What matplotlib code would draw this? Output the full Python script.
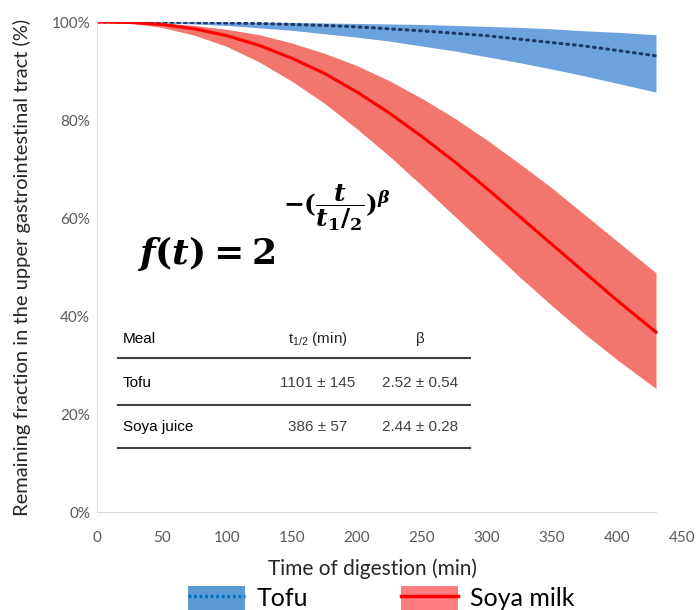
import matplotlib
matplotlib.use("Agg")
import matplotlib.pyplot as plt
from matplotlib.lines import Line2D
from matplotlib.patches import Patch
from matplotlib.ticker import PercentFormatter

plt.rcParams["font.family"] = ["Lato", "DejaVu Sans"]
plt.rcParams["mathtext.fontset"] = "custom"
plt.rcParams["mathtext.it"] = "DejaVu Serif:italic:bold"
plt.rcParams["mathtext.rm"] = "DejaVu Serif:bold"
plt.rcParams["mathtext.bf"] = "DejaVu Serif:bold"

# time points (min)
t = [0, 25, 50, 75, 100, 125, 150, 175, 200, 225, 250, 275, 300, 325, 350, 375, 400, 430]

# Tofu: median curve and band (%)
tofu_mid = [100, 100, 99.97, 99.9, 99.8, 99.7, 99.5, 99.3, 99.0, 98.6, 98.2, 97.7, 97.2, 96.5, 95.8, 95.1, 94.2, 93.1]
tofu_hi = [100, 100, 100, 100, 99.97, 99.95, 99.9, 99.8, 99.7, 99.6, 99.5, 99.3, 99.1, 98.9, 98.6, 98.2, 97.9, 97.4]
tofu_lo = [100, 99.96, 99.8, 99.6, 99.3, 98.8, 98.3, 97.6, 96.9, 96.1, 95.1, 94.1, 92.9, 91.7, 90.4, 89.0, 87.5, 85.7]

# Soya milk: median curve and band (%)
soya_mid = [100, 99.9, 99.5, 98.6, 97.2, 95.2, 92.6, 89.5, 85.7, 81.4, 76.6, 71.5, 66.0, 60.3, 54.6, 48.9, 43.2, 36.7]
soya_hi = [100, 100, 99.8, 99.3, 98.5, 97.4, 95.7, 93.6, 91.1, 88.0, 84.4, 80.4, 75.9, 71.1, 66.1, 60.7, 55.3, 48.8]
soya_lo = [100, 99.8, 98.9, 97.3, 95.0, 91.8, 87.9, 83.4, 78.2, 72.6, 66.6, 60.4, 54.2, 48.0, 42.1, 36.4, 31.1, 25.2]

# inset table
meals = ["Tofu", "Soya juice"]
t_half = ["1101 ± 145", "386 ± 57"]
betas = ["2.52 ± 0.54", "2.44 ± 0.28"]

W, H = 697, 610
fig = plt.figure(figsize=(W / 100, H / 100), dpi=100)
ax = fig.add_axes([97 / W, 1 - 512 / H, (682 - 97) / W, (512 - 22) / H])


def px(x, y):
    return x / W, 1 - y / H


ax.fill_between(t, tofu_lo, tofu_hi, color="#6CA2DE", lw=0)
ax.fill_between(t, soya_lo, soya_hi, color="#F2766D", lw=0)
ax.plot(t, tofu_mid, color="#1F3864", lw=2.2, ls=(0, (0.6, 1.6)), dash_capstyle="round")
ax.plot(t, soya_mid, color="#FF0000", lw=2.2)

ax.set_xlim(0, 450)
ax.set_ylim(0, 100)
ax.set_xticks(range(0, 451, 50))
ax.set_yticks(range(0, 101, 20))
ax.yaxis.set_major_formatter(PercentFormatter(decimals=0))
ax.tick_params(length=0, labelsize=11, colors="#595959")
ax.tick_params(axis="y", pad=5)
ax.tick_params(axis="x", pad=14)
for s in ["top", "right"]:
    ax.spines[s].set_visible(False)
for s in ["left", "bottom"]:
    ax.spines[s].set_color("#D9D9D9")
ax.spines["bottom"].set_bounds(0, 430)

ax.set_xlabel("Time of digestion (min)", fontsize=15, color="#262626")
ax.xaxis.set_label_coords((373 - 97) / (682 - 97), -(569 - 512) / (512 - 22), transform=ax.transAxes)
ax.xaxis.label.set_va("center")
ax.set_ylabel("Remaining fraction in the upper gastrointestinal tract (%)",
              fontsize=14.5, color="#262626")
ax.yaxis.set_label_coords(-(97 - 22) / (682 - 97), (512 - 267) / (512 - 22), transform=ax.transAxes)
ax.yaxis.label.set_va("center")

# formula
fig.text(*px(137, 264), r"$f(t) = 2$", fontsize=26, ha="left", va="baseline", color="black")
fig.text(*px(283, 212), r"$-(\dfrac{t}{t_{1}/_{2}})^{\beta}$", fontsize=18, ha="left",
         va="baseline", color="black")

# table
col_x = [123, 318, 420]
fig.text(*px(col_x[0], 339), "Meal", fontsize=11, va="center", ha="left", family="Liberation Sans")
fig.text(*px(col_x[1], 339), r"t$_{\mathregular{1/2}}$ (min)", fontsize=11, va="center", ha="center",
         family="Liberation Sans", color="#262626")
fig.text(*px(col_x[2], 339), "β", fontsize=11, va="center", ha="center",
         family="Liberation Sans", color="#262626")
row_y = [383, 427]
for i in range(len(meals)):
    fig.text(*px(col_x[0], row_y[i]), meals[i], fontsize=11, va="center", ha="left",
             family="Liberation Sans")
    fig.text(*px(col_x[1], row_y[i]), t_half[i], fontsize=11, va="center", ha="center",
             family="Liberation Sans", color="#404040")
    fig.text(*px(col_x[2], row_y[i]), betas[i], fontsize=11, va="center", ha="center",
             family="Liberation Sans", color="#404040")
for yl in [358, 405, 448]:
    x0, y0 = px(118, yl)
    x1, _ = px(470, yl)
    fig.add_artist(Line2D([x0, x1], [y0, y0], color="#404040", lw=1.5))

# legend
handles = [
    (Patch(facecolor="#5B9BD5"), Line2D([], [], color="#0070C0", lw=2.5, ls=(0, (0.8, 0.8)))),
    (Patch(facecolor="#FF7C80"), Line2D([], [], color="#FF0000", lw=2.5)),
]
fig.legend(handles, ["Tofu", "Soya milk"], loc="center", bbox_to_anchor=(0.547, 0.02),
           ncol=2, frameon=False, fontsize=18, handlelength=2.28, handleheight=1.1,
           handletextpad=0.48, columnspacing=3.7, borderpad=0)

fig.savefig("out.png", dpi=100)
